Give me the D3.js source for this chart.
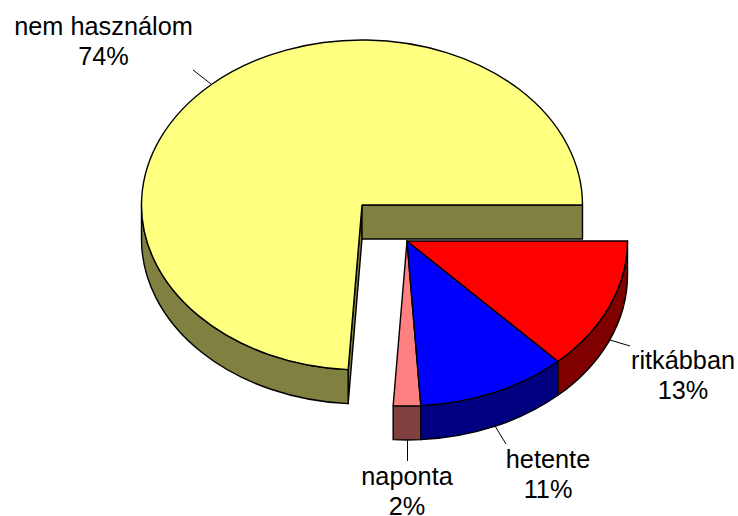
<!DOCTYPE html>
<html><head><meta charset="utf-8">
<script src="https://cdnjs.cloudflare.com/ajax/libs/d3/7.8.5/d3.min.js"></script>
<style>html,body{margin:0;padding:0;background:#fff}svg{display:block}
text{font-family:"Liberation Sans",Arial,sans-serif;font-size:25.3px;fill:#000;text-anchor:middle}</style>
</head><body><svg id="c" width="738" height="516"></svg>
<script>
const categories = ["ritkábban","hetente","naponta","nem használom"];
const values = [13,11,2,74];
const topColors = ["#FF0000","#0000FF","#FF8080","#FFFF80"];
const sideColors = ["#800000","#000080","#804040","#808040"];

const rx = 220.5, ry = 165, depth = 34;
const centers = [[407,241],[407,241],[407,241],[362,205]];
const labelAt = [[683,369],[548,468],[407,484.5],[103.5,35]];
const leaders = [[[610,340],[630,346]],[[495,426],[506,444]],[[407.5,439],[407.5,461]],[[211,84],[193,70]]];

const svg = d3.select("#c");
const arcs = d3.pie().sort(null).value(d=>d).startAngle(0).endAngle(2*Math.PI)(values);
const pt = (c,t,dy=0)=>[c[0]+rx*Math.cos(t), c[1]+ry*Math.sin(t)+dy];
const ell = (a,b,sweep)=>{const large=Math.abs(b-a)>Math.PI?1:0;return [large,sweep];};

function topPath(c,a,b){
  const p0=pt(c,a),p1=pt(c,b),[l]=ell(a,b,1);
  return `M${c}L${p0}A${rx},${ry} 0 ${l} 1 ${p1}Z`;
}
function sidePath(c,a,b){
  const p0=pt(c,a),p1=pt(c,b),q0=pt(c,a,depth),q1=pt(c,b,depth),[l]=ell(a,b,1);
  return `M${p0}A${rx},${ry} 0 ${l} 1 ${p1}L${q1}A${rx},${ry} 0 ${l} 0 ${q0}Z`;
}
function cutPath(c,t){
  const p=pt(c,t),q=pt(c,t,depth);
  return `M${c}L${p}L${q}L${c[0]},${c[1]+depth}Z`;
}
const style = s=>s.attr("stroke","#000").attr("stroke-width",1.4).attr("stroke-linejoin","round");

svg.append("g").selectAll("line").data(leaders).join("line")
  .attr("x1",d=>d[0][0]).attr("y1",d=>d[0][1]).attr("x2",d=>d[1][0]).attr("y2",d=>d[1][1])
  .attr("stroke","#000").attr("stroke-width",1);

arcs.map((d,i)=>i).reverse().forEach(i=>{
  const d=arcs[i], c=centers[i], g=svg.append("g");
  const a=d.startAngle, b=d.endAngle, side=sideColors[i];
  if(i===3){
    g.append("path").attr("d",cutPath(c,a)).attr("fill",side).call(style);
    g.append("path").attr("d",cutPath(c,b)).attr("fill",side).call(style);
  }
  const vb=Math.min(b,Math.PI);
  if(a<Math.PI) g.append("path").attr("d",sidePath(c,a,vb)).attr("fill",side).call(style);
  g.append("path").attr("d",topPath(c,a,b)).attr("fill",topColors[i]).call(style);
});

const lab=svg.append("g").selectAll("text").data(categories).join("text")
  .attr("transform",(d,i)=>`translate(${labelAt[i]})`);
lab.append("tspan").attr("x",0).text(d=>d);
lab.append("tspan").attr("x",0).attr("dy",30).text((d,i)=>values[i]+"%");
</script></body></html>
